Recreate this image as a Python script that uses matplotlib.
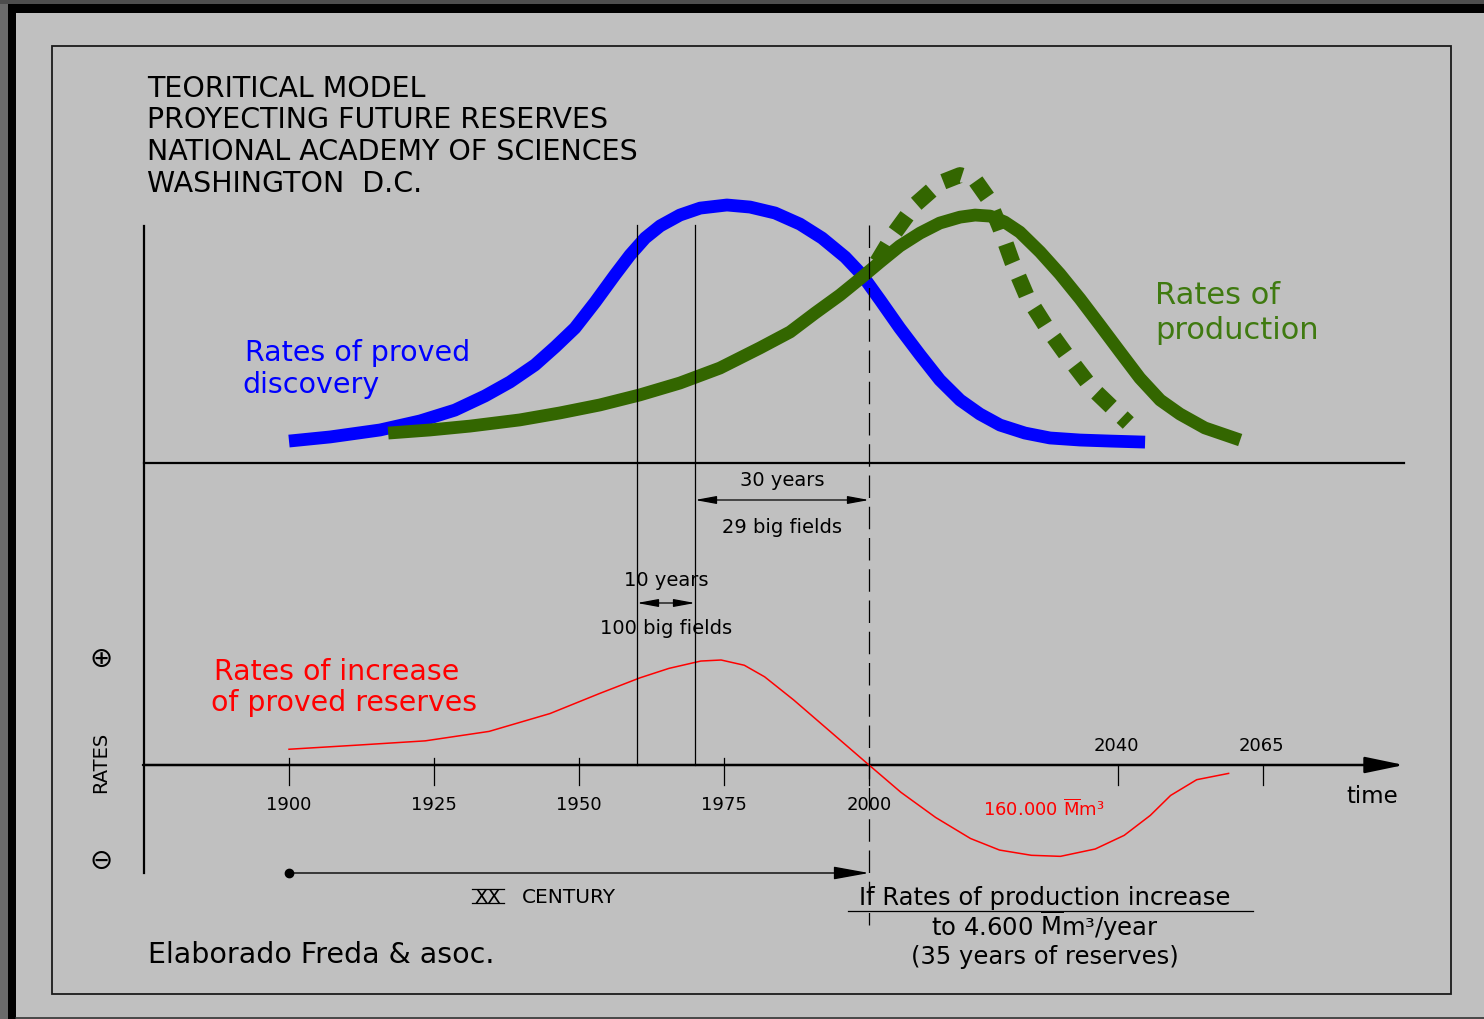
import matplotlib
matplotlib.use('Agg')
import matplotlib.pyplot as plt
from matplotlib.patches import Rectangle
from matplotlib.transforms import blended_transform_factory

# discovery rate (upper panel, peak = 100)
years_disc = [1900, 1907.1, 1915.7, 1922.6, 1928.6, 1933.8, 1938.1, 1942.4, 1945.9,
              1949.3, 1952.8, 1956.2, 1958.8, 1961.4, 1964, 1967.4, 1970.9, 1975.5,
              1979.5, 1983.8, 1988.1, 1991.9, 1995.9, 1998.8, 2001.9, 2005.3, 2008.8,
              2012.2, 2015.7, 2019.1, 2022.6, 2026.9, 2031.2, 2036.4, 2041.6, 2047.6]
disc = [8.5, 10.1, 12.8, 16.3, 20.5, 26, 31.4, 38, 45,
        52.3, 62.4, 72.9, 80.6, 87.2, 91.9, 96.1, 98.8, 100,
        99.2, 96.9, 92.6, 87.2, 79.8, 72.9, 63.2, 52.3, 41.9,
        32.2, 24.4, 19, 14.7, 11.6, 9.7, 8.9, 8.5, 8.1]

# production rate
years_prod = [1917.1, 1924.3, 1931.2, 1939.8, 1946.7, 1953.6, 1960.5, 1967.4, 1974.3,
              1981.2, 1986.4, 1990.7, 1995, 1998.4, 2001.9, 2005.3, 2008.8, 2012.2,
              2015.7, 2018.3, 2020.9, 2023.4, 2026, 2029.5, 2032.9, 2036.4, 2039.8,
              2043.3, 2046.7, 2050.2, 2053.6, 2057.9, 2064]
prod = [11.6, 12.8, 14.3, 16.7, 19.4, 22.5, 26.4, 31, 36.8,
        44.6, 50.8, 58.1, 65.1, 71.3, 77.9, 84.1, 89.1, 93,
        95.3, 96.1, 95.7, 93.4, 89.5, 81.8, 73.3, 63.6, 53.5,
        43, 32.9, 24.4, 19, 13.6, 8.9]

# production if rates increase (dotted)
years_fast = [2001.4, 2004.5, 2007.9, 2012.2, 2015.7, 2018.3, 2020.5, 2022.6, 2024.7,
              2027.2, 2030.7, 2034.3, 2038.4, 2044.7]
fast = [77.9, 89.5, 100, 108.5, 111.6, 109.7, 102.7, 91.1, 77.9,
        64.7, 52.3, 41.1, 29.1, 15.5]

# rates of increase of proved reserves (lower panel, peak = 100)
years_incr = [1900, 1912, 1923.5, 1934.5, 1945, 1953.5, 1960.5, 1965.5, 1971, 1974.5,
              1978.5, 1982, 1987, 1993.5, 2000, 2005.5, 2011.5, 2017.5, 2022.5, 2028,
              2033, 2039, 2044, 2048.5, 2052, 2056.5, 2062]
incr = [15, 19, 23, 32, 49, 68, 83, 92, 99, 100,
        95, 84, 62, 31, 0, -26, -50, -70, -81, -86,
        -87, -80, -67, -48, -29, -14, -8]

low_ticks = [1900, 1925, 1950, 1975, 2000]
low_labels = ['1900', '1925', '1950', '1975', '2000']
high_ticks = [2043, 2068]          # schematic: not to scale in the original
high_labels = ['2040', '2065']
marks = [1960, 1970]
cut_year = 2000

W, H = 1484, 1019
PXY = 5.8                      # pixels per year
X0 = 1900 - 289 / PXY
X1 = X0 + W / PXY
BASE_U, SC_U = 463, 2.58       # upper baseline pixel, px per unit
BASE_L, SC_L = 765, 1.05

fig = plt.figure(figsize=(W / 100, H / 100), dpi=100)
fig.patch.set_facecolor('#c0c0c0')

ax = fig.add_axes([0, 0, 1, 1])
ax.set_xlim(0, W)
ax.set_ylim(H, 0)
ax.axis('off')

axu = fig.add_axes([0, 0, 1, 1])
axu.set_xlim(X0, X1)
axu.set_ylim(-(H - BASE_U) / SC_U, BASE_U / SC_U)
axu.axis('off')

axl = fig.add_axes([0, 0, 1, 1])
axl.set_xlim(X0, X1)
axl.set_ylim(-(H - BASE_L) / SC_L, BASE_L / SC_L)
axl.axis('off')

bt = blended_transform_factory(axl.transData, ax.transData)

# outer frame bands
ax.add_patch(Rectangle((0, 0), W, 4, color='#4d4d4d', lw=0))
ax.add_patch(Rectangle((0, 4), W, 9, color='black', lw=0))
ax.add_patch(Rectangle((0, 4), 8, H, color='#6a6a6a', lw=0))
ax.add_patch(Rectangle((8, 4), 8, H, color='black', lw=0))
ax.plot([16, W], [1017.5, 1017.5], color='#333333', lw=1.2)
ax.add_patch(Rectangle((52, 46), 1399, 948, fill=False, ec='#1a1a1a', lw=1.3))

# axes
ax.plot([144, 144], [226, 873], color='black', lw=1.6)
ax.plot([144, 1404], [463, 463], color='black', lw=1.6)
ax.annotate('', xy=(1404, 765), xytext=(143, 765),
            arrowprops=dict(arrowstyle='-|>,head_length=1.2,head_width=0.25',
                            mutation_scale=20, lw=1.8, color='black',
                            shrinkA=0, shrinkB=0))

# curves
axu.plot(years_disc, disc, color='#0000ff', lw=9.2, solid_capstyle='butt',
         solid_joinstyle='round', zorder=3)
axu.plot(years_prod, prod, color='#336600', lw=9.2, solid_capstyle='butt',
         solid_joinstyle='round', zorder=4)
axu.plot(years_fast, fast, color='#336600', lw=11.5, linestyle=(0, (1.25, 0.95)),
         dash_capstyle='butt', zorder=5)
axl.plot(years_incr, incr, color='#ff0000', lw=1.1, zorder=3)

# reference verticals
for yr in marks:
    axl.plot([yr, yr], [225, 765], transform=bt, color='black', lw=0.9, zorder=6)
axl.plot([cut_year, cut_year], [225, 925], transform=bt, color='black', lw=0.9,
         linestyle=(0, (18, 7)), zorder=6)

# ticks
for yr, lab in zip(low_ticks, low_labels):
    axl.plot([yr, yr], [758, 785], transform=bt, color='black', lw=0.9)
    axl.text(yr, 810, lab, transform=bt, ha='center', va='baseline', fontsize=13)
for yr, lab in zip(high_ticks, high_labels):
    axl.plot([yr, yr], [765, 785], transform=bt, color='black', lw=0.9)
    axl.text(yr - 0.4, 751, lab, transform=bt, ha='center', va='baseline', fontsize=13)

# dimension arrows
dim = dict(arrowstyle='<|-|>,head_length=0.65,head_width=0.12', mutation_scale=20,
           lw=0.9, color='black', shrinkA=0, shrinkB=0)
axl.annotate('', xy=(cut_year, 500), xytext=(marks[1], 500), xycoords=bt,
             textcoords=bt, arrowprops=dim)
axl.annotate('', xy=(marks[1], 603), xytext=(marks[0], 603), xycoords=bt,
             textcoords=bt, arrowprops=dim)
axl.text((marks[1] + cut_year) / 2, 486, '30 years', transform=bt, ha='center',
         va='baseline', fontsize=14)
axl.text((marks[1] + cut_year) / 2, 533, '29 big fields', transform=bt, ha='center',
         va='baseline', fontsize=14)
axl.text((marks[0] + marks[1]) / 2, 586, '10 years', transform=bt, ha='center',
         va='baseline', fontsize=14)
axl.text((marks[0] + marks[1]) / 2, 634, '100 big fields', transform=bt, ha='center',
         va='baseline', fontsize=14)

# XX century arrow
axl.plot([1900], [873], transform=bt, marker='o', color='black', ms=6)
axl.annotate('', xy=(cut_year, 873), xytext=(1900, 873), xycoords=bt, textcoords=bt,
             arrowprops=dict(arrowstyle='-|>,head_length=1.1,head_width=0.2',
                             mutation_scale=20, lw=1.0, color='black',
                             shrinkA=0, shrinkB=0))
ax.text(488, 903, 'XX', ha='center', va='baseline', fontsize=14)
ax.plot([472, 504], [889, 889], color='black', lw=0.9)
ax.plot([472, 504], [903, 903], color='black', lw=0.9)
ax.text(522, 903, 'CENTURY', ha='left', va='baseline', fontsize=14.5)

# titles and labels
title = ['TEORITICAL MODEL', 'PROYECTING FUTURE RESERVES',
         'NATIONAL ACADEMY OF SCIENCES', 'WASHINGTON  D.C.']
for t, yb in zip(title, [97, 128, 159.5, 191.5]):
    ax.text(147, yb, t, ha='left', va='baseline', fontsize=20.5)

ax.text(245, 361, 'Rates of proved', color='#0000ff', fontsize=20.5, va='baseline')
ax.text(242, 393, 'discovery', color='#0000ff', fontsize=20.5, va='baseline')
ax.text(1155, 304, 'Rates of', color='#3f7a10', fontsize=22, va='baseline')
ax.text(1155, 339, 'production', color='#3f7a10', fontsize=22, va='baseline')
ax.text(214, 680, 'Rates of increase', color='#ff0000', fontsize=20.4, va='baseline')
ax.text(211, 711, 'of proved reserves', color='#ff0000', fontsize=20.4, va='baseline')

ax.text(101, 762, 'RATES', rotation=90, ha='center', va='center', fontsize=14)
ax.text(101, 659, '\u2295', ha='center', va='center', fontsize=20)
ax.text(101, 861, '\u2296', ha='center', va='center', fontsize=20)
ax.text(1372, 803, 'time', ha='center', va='baseline', fontsize=16.5)

ax.text(1044, 816, r'160.000 $\overline{\mathrm{M}}$m³', color='#ff0000', ha='center',
        va='baseline', fontsize=13)
ax.text(1045, 905, 'If Rates of production increase', ha='center', va='baseline',
        fontsize=17.5)
ax.plot([848, 1253], [911, 911], color='black', lw=0.9)
ax.text(1045, 936, r'to 4.600 $\overline{\mathrm{M}}$m³/year', ha='center',
        va='baseline', fontsize=17.5)
ax.text(1045, 964, '(35 years of reserves)', ha='center', va='baseline', fontsize=17.5)
ax.text(148, 963, 'Elaborado Freda & asoc.', ha='left', va='baseline', fontsize=20.5)

fig.savefig('out.png', dpi=100, facecolor=fig.get_facecolor())
